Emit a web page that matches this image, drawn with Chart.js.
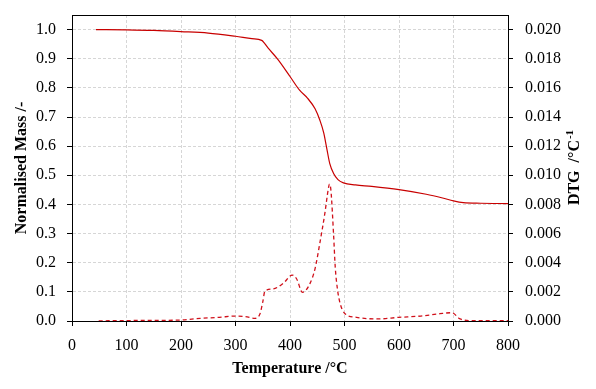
<!DOCTYPE html>
<html>
<head>
<meta charset="utf-8">
<script src="https://cdn.jsdelivr.net/npm/chart.js@4/dist/chart.umd.min.js"></script>
<style>
html,body{margin:0;padding:0;background:#fff;}
#wrap{width:596px;height:389px;}
</style>
</head>
<body>
<div id="wrap"><canvas id="c" width="596" height="389"></canvas></div>
<script>
// ---- data ----
const tgTemperature = [44, 100, 150, 200, 250, 300, 330, 348, 360, 378, 400, 418, 432, 446, 455, 462, 467, 473, 480, 488, 498, 520, 550, 600, 650, 680, 700, 718, 750, 800];
const tgMass = [1.000, 0.999, 0.997, 0.993, 0.988, 0.977, 0.969, 0.963, 0.936, 0.897, 0.839, 0.791, 0.765, 0.728, 0.688, 0.645, 0.597, 0.540, 0.506, 0.485, 0.474, 0.467, 0.462, 0.451, 0.435, 0.422, 0.412, 0.406, 0.404, 0.403];

const dtgTemperature = [49, 100, 150, 200, 235, 270, 300, 318, 336, 345, 350, 354, 369, 388, 404, 412, 423, 437, 446, 455, 464, 470, 472.5, 475, 480, 483, 487, 492, 501, 522, 560, 600, 640, 675, 697, 712, 736, 800];
const dtgValue = [0.00001, 0.00003, 0.00004, 0.00007, 0.00018, 0.00025, 0.00034, 0.00030, 0.00018, 0.00050, 0.00130, 0.00205, 0.00220, 0.00260, 0.00315, 0.00290, 0.00197, 0.00260, 0.00360, 0.00540, 0.00740, 0.00900, 0.00940, 0.00900, 0.00590, 0.00370, 0.00220, 0.00120, 0.00050, 0.00025, 0.00014, 0.00025, 0.00034, 0.00050, 0.00057, 0.00014, 0.00002, 0.00002];

// tick labels
const xTicks = [0, 100, 200, 300, 400, 500, 600, 700, 800];
const yTicks = [0.0, 0.1, 0.2, 0.3, 0.4, 0.5, 0.6, 0.7, 0.8, 0.9, 1.0];
const y1Ticks = [0.000, 0.002, 0.004, 0.006, 0.008, 0.010, 0.012, 0.014, 0.016, 0.018, 0.020];

const xTitle = 'Temperature /°C';
const yTitle = 'Normalised Mass /-';
const y1TitleMain = 'DTG  /°C';
const y1TitleSup = '-1';

const toPoints = (xs, ys) => xs.map((x, i) => ({x: x, y: ys[i]}));

const tickFont = {family: '"Liberation Serif", "Times New Roman", serif', size: 16};
const titleFont = {family: '"Liberation Serif", "Times New Roman", serif', size: 16, weight: 'bold'};
const gridColor = '#d6d6d6';

const framePlugin = {
  id: 'frame',
  afterDraw(chart) {
    const {ctx, chartArea: a} = chart;
    ctx.save();
    ctx.strokeStyle = '#000';
    ctx.lineWidth = 1;
    ctx.strokeRect(Math.round(a.left) + 0.5, Math.round(a.top) + 0.5, Math.round(a.right - a.left), Math.round(a.bottom - a.top));
    // right axis title, reading bottom-to-top with superscript
    const cx = chart.width - 21;
    const cy = (a.top + a.bottom) / 2;
    ctx.translate(cx, cy);
    ctx.rotate(-Math.PI / 2);
    ctx.fillStyle = '#000';
    ctx.textBaseline = 'middle';
    ctx.font = 'bold 16px "Liberation Serif", serif';
    const w1 = ctx.measureText(y1TitleMain).width;
    ctx.font = 'bold 11px "Liberation Serif", serif';
    const w2 = ctx.measureText(y1TitleSup).width;
    const start = -(w1 + w2) / 2;
    ctx.textAlign = 'left';
    ctx.font = 'bold 16px "Liberation Serif", serif';
    ctx.fillText(y1TitleMain, start, 0);
    ctx.font = 'bold 11px "Liberation Serif", serif';
    ctx.fillText(y1TitleSup, start + w1 + 1, -5);
    ctx.restore();
  }
};

const setTicks = (arr) => (s) => { s.ticks = arr.map(v => ({value: v})); };

new Chart(document.getElementById('c'), {
  type: 'line',
  data: {
    datasets: [
      {
        label: 'Normalised Mass',
        data: toPoints(tgTemperature, tgMass),
        yAxisID: 'y',
        borderColor: '#c80000',
        borderWidth: 1.2,
        pointRadius: 0,
        fill: false,
        cubicInterpolationMode: 'monotone'
      },
      {
        label: 'DTG',
        data: toPoints(dtgTemperature, dtgValue),
        yAxisID: 'y1',
        borderColor: '#d0101a',
        borderWidth: 1.3,
        borderDash: [4, 3],
        pointRadius: 0,
        fill: false,
        cubicInterpolationMode: 'monotone'
      }
    ]
  },
  options: {
    responsive: false,
    animation: false,
    devicePixelRatio: 1,
    layout: {padding: {top: 15, left: 0, right: 0, bottom: 0}},
    plugins: {legend: {display: false}, tooltip: {enabled: false}},
    scales: {
      x: {
        type: 'linear',
        min: 0, max: 800,
        afterBuildTicks: setTicks(xTicks),
        ticks: {font: tickFont, color: '#000', padding: 10, maxRotation: 0, autoSkip: false},
        grid: {color: gridColor, tickColor: '#000', tickLength: 5, tickBorderDash: []},
        border: {color: '#000', dash: [3, 2]},
        title: {display: true, text: xTitle, font: titleFont, color: '#000', padding: {top: 0, bottom: 11}},
        afterFit(s) { s.height = 68; s.paddingLeft = 0; s.paddingRight = 0; }
      },
      y: {
        position: 'left',
        min: 0, max: 1.05,
        afterBuildTicks: setTicks(yTicks),
        ticks: {font: tickFont, color: '#000', padding: 11, autoSkip: false, callback: v => Number(v).toFixed(1)},
        grid: {color: gridColor, tickColor: '#000', tickLength: 5, tickBorderDash: []},
        border: {color: '#000', dash: [3, 2]},
        title: {display: true, text: yTitle, font: titleFont, color: '#000', padding: {top: 12, bottom: 0}},
        afterFit(s) { s.width = 72; s.paddingTop = 0; s.paddingBottom = 0; }
      },
      y1: {
        position: 'right',
        min: 0, max: 0.021,
        afterBuildTicks: setTicks(y1Ticks),
        ticks: {font: tickFont, color: '#000', padding: 12, autoSkip: false, callback: v => Number(v).toFixed(3)},
        grid: {drawOnChartArea: false, tickColor: '#000', tickLength: 5, tickBorderDash: []},
        border: {color: '#000'},
        title: {display: false},
        afterFit(s) { s.width = 88; s.paddingTop = 0; s.paddingBottom = 0; }
      }
    }
  },
  plugins: [framePlugin]
});
</script>
</body>
</html>
